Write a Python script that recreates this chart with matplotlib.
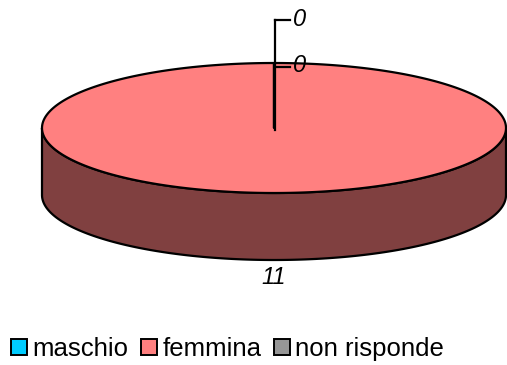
import numpy as np
import matplotlib.pyplot as plt
from matplotlib.patches import Polygon, Patch

plt.rcParams['font.family'] = ['Liberation Sans', 'DejaVu Sans']

categories = ['maschio', 'femmina', 'non risponde']
values = [0, 11, 0]
top_colors = ['#00CCFF', '#FF8080', '#969696']
side_colors = ['#006680', '#804040', '#4B4B4B']

fig = plt.figure(figsize=(5.07, 3.65), dpi=100)
ax = fig.add_axes([0, 0, 1, 1])
ax.set_xlim(0, 507)
ax.set_ylim(365, 0)
ax.axis('off')

cx, cy, rx, ry, depth = 274, 128, 232, 65, 67
total = float(sum(values))


def pt(theta_deg, dy=0.0):
    t = np.radians(theta_deg)
    return cx + rx * np.cos(t), cy - ry * np.sin(t) + dy


cum = np.concatenate([[0], np.cumsum(values)])
start = 90.0
for i, v in enumerate(values):
    if v <= 0:
        continue
    a1 = start - 360.0 * cum[i] / total
    a2 = start - 360.0 * cum[i + 1] / total
    for lo, hi in [(-540, -360), (-180, 0), (180, 360)]:
        s = max(lo, a2)
        e = min(hi, a1)
        if e > s:
            th = np.linspace(s, e, 200)
            xs, ys = pt(th)
            xb, yb = pt(th[::-1], depth)
            poly = np.column_stack([np.concatenate([xs, xb]), np.concatenate([ys, yb])])
            ax.add_patch(Polygon(poly, closed=True, facecolor=side_colors[i],
                                 edgecolor='black', lw=1.6, joinstyle='round', zorder=2))
    th = np.linspace(a1, a2, 400)
    xs, ys = pt(th)
    poly = np.column_stack([np.concatenate([[cx], xs]), np.concatenate([[cy], ys])])
    ax.add_patch(Polygon(poly, closed=True, facecolor=top_colors[i],
                         edgecolor='black', lw=1.6, joinstyle='round', zorder=3))

# data labels
lx = cx + 1
ax.plot([lx, lx], [cy + 2, 20], color='black', lw=1.6, zorder=4)
ax.plot([lx, 290], [20, 20], color='black', lw=1.6, zorder=4)
ax.plot([lx, 290], [67, 67], color='black', lw=1.6, zorder=4)
ax.text(293, 19, str(values[0]), fontsize=17, style='italic', ha='left', va='center', zorder=5)
ax.text(293, 65, str(values[2]), fontsize=17, style='italic', ha='left', va='center', zorder=5)
ax.text(cx, 278, str(values[1]), fontsize=17, style='italic', ha='center', va='center', zorder=5)

handles = [Patch(facecolor=c, edgecolor='black', lw=1.4) for c in top_colors]
fig.legend(handles, categories, loc='lower left', bbox_to_anchor=(0.012, -0.003),
           ncol=3, frameon=False, fontsize=18.5, handlelength=0.62, handleheight=0.62,
           handletextpad=0.2, columnspacing=0.5, borderaxespad=0.0, borderpad=0.2)

fig.savefig('out.png', dpi=100)
